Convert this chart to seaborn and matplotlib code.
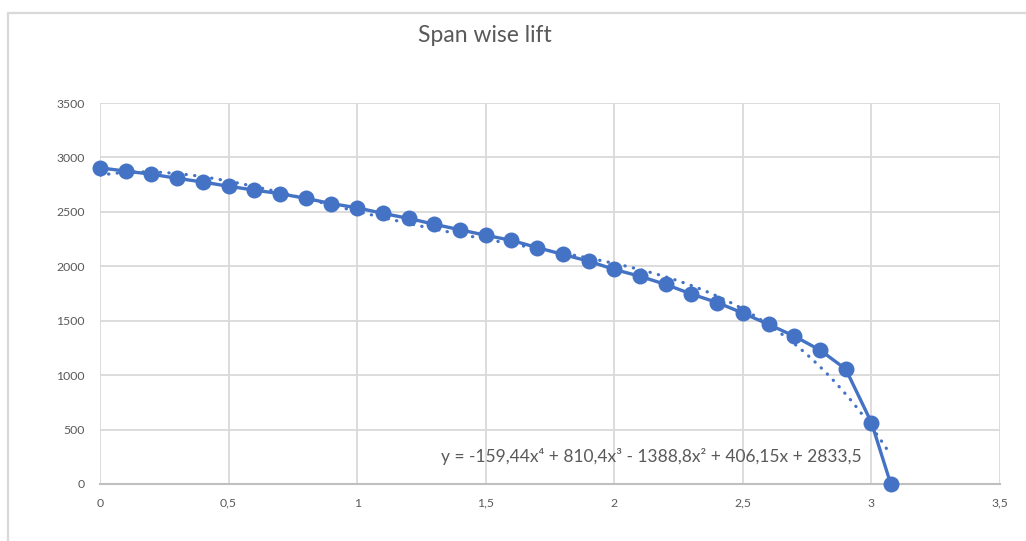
import numpy as np
import pandas as pd
import matplotlib
matplotlib.use("Agg")
import matplotlib.pyplot as plt
import seaborn as sns

# Span positions and lift values
span = [0.0, 0.1, 0.2, 0.3, 0.4, 0.5, 0.6, 0.7, 0.8, 0.9,
        1.0, 1.1, 1.2, 1.3, 1.4, 1.5, 1.6, 1.7, 1.8, 1.9,
        2.0, 2.1, 2.2, 2.3, 2.4, 2.5, 2.6, 2.7, 2.8, 2.9,
        3.0, 3.075]
lift = [2905, 2874, 2846, 2808, 2774, 2735, 2700, 2667, 2624, 2576,
        2537, 2486, 2440, 2386, 2335, 2285, 2238, 2172, 2109, 2047,
        1971, 1908, 1833, 1745, 1667, 1570, 1466, 1358, 1230, 1055,
        564, 0]

x_ticks = [0, 0.5, 1, 1.5, 2, 2.5, 3, 3.5]
x_tick_labels = ["0", "0,5", "1", "1,5", "2", "2,5", "3", "3,5"]
y_ticks = [0, 500, 1000, 1500, 2000, 2500, 3000, 3500]
y_tick_labels = ["0", "500", "1000", "1500", "2000", "2500", "3000", "3500"]

title = "Span wise lift"
equation = "y = -159,44x⁴ + 810,4x³ - 1388,8x² + 406,15x + 2833,5"

df = pd.DataFrame({"span": span, "lift": lift})

blue = "#4472C4"
grid_grey = "#d9d9d9"
text_grey = "#595959"

sns.set_theme(style="white")
plt.rcParams["font.family"] = ["Lato", "DejaVu Sans"]

fig = plt.figure(figsize=(10.26, 5.41), dpi=100)
ax = fig.add_axes([0.0975, 0.1054, 0.8772, 0.7042])

# chart frame (only top and left visible in the crop)
fig.add_artist(plt.Line2D([8 / 1026, 8 / 1026], [0, 1 - 13 / 541],
                          color=grid_grey, lw=1.6, transform=fig.transFigure))
fig.add_artist(plt.Line2D([8 / 1026, 1], [1 - 13 / 541, 1 - 13 / 541],
                          color=grid_grey, lw=1.6, transform=fig.transFigure))

# 4th order polynomial trendline (dotted)
sns.regplot(data=df, x="span", y="lift", order=4, ci=None, scatter=False,
            truncate=True, ax=ax,
            line_kws=dict(color=blue, lw=2.3, linestyle=(0, (0.1, 2.6)),
                          dash_capstyle="round", zorder=3))

# measured lift with markers
sns.lineplot(data=df, x="span", y="lift", ax=ax, color=blue, lw=2.4,
             marker="o", markersize=11.5, markeredgewidth=0,
             clip_on=False, zorder=4)

ax.set_xlim(0, 3.5)
ax.set_ylim(0, 3500)
ax.set_xticks(x_ticks)
ax.set_xticklabels(x_tick_labels)
ax.set_yticks(y_ticks)
ax.set_yticklabels(y_tick_labels)
ax.tick_params(axis="both", length=0, labelsize=8.8, labelcolor=text_grey)
ax.tick_params(axis="y", pad=11)
ax.tick_params(axis="x", pad=10)
ax.set_xlabel("")
ax.set_ylabel("")

ax.grid(True, color=grid_grey, lw=1.3)
for side in ["top", "left", "right"]:
    ax.spines[side].set_visible(False)
ax.spines["bottom"].set_color("#bfbfbf")
ax.spines["bottom"].set_linewidth(1.5)

fig.text(485 / 1026, 1 - 35 / 541, title, ha="center", va="center",
         fontsize=16.5, color=text_grey)
ax.text(1.325, 250, equation, ha="left", va="center",
        fontsize=12.5, color=text_grey, family=["Lato", "DejaVu Sans"])

fig.savefig("out.png", dpi=100, facecolor="white")
